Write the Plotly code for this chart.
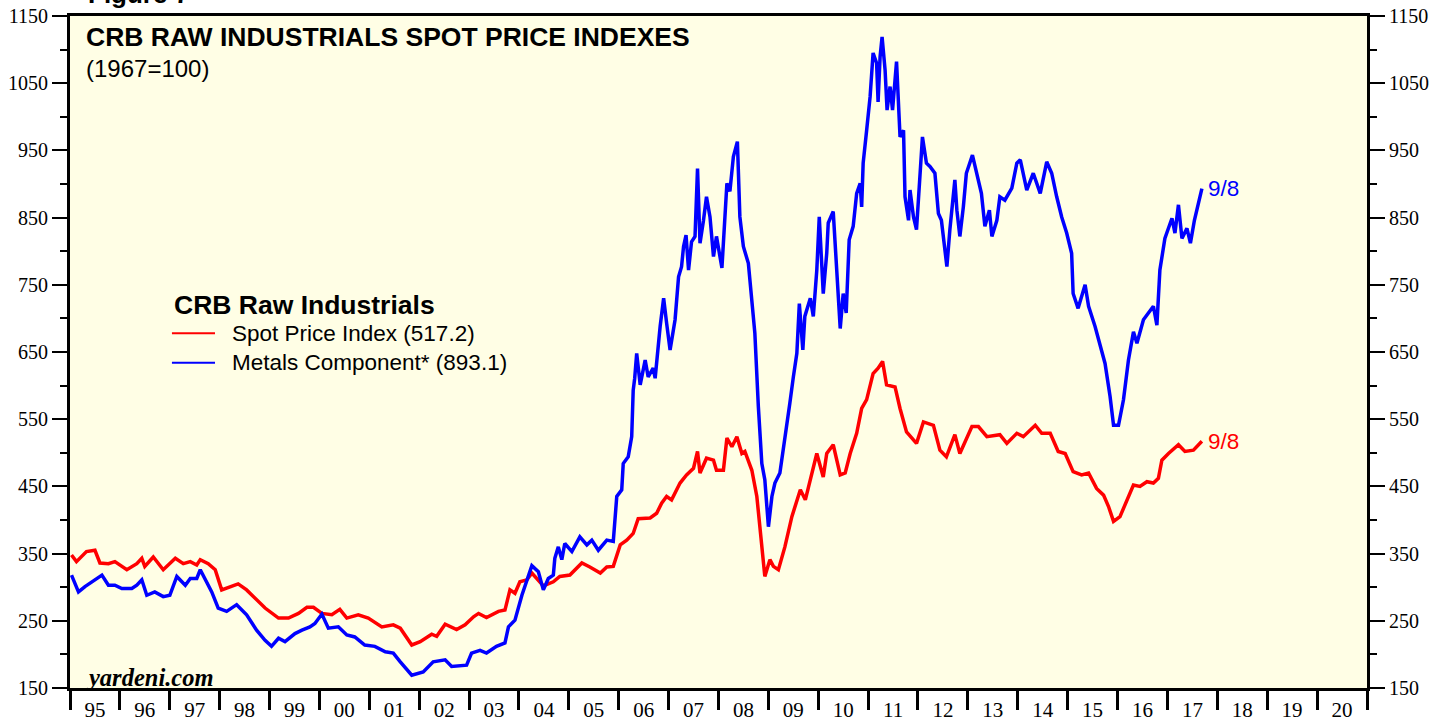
import plotly.graph_objects as go
import pandas as pd

# CRB Raw Industrials spot price index (decimal year, value)
spot_t = [1995.03, 1995.13, 1995.33, 1995.50, 1995.60, 1995.77, 1995.90, 1996.14, 1996.34, 1996.44,
          1996.50, 1996.67, 1996.87, 1997.11, 1997.27, 1997.41, 1997.54, 1997.61, 1997.77, 1997.91,
          1998.04, 1998.21, 1998.37, 1998.54, 1998.71, 1998.91, 1999.18, 1999.38, 1999.58, 1999.75,
          1999.88, 2000.05, 2000.25, 2000.41, 2000.55, 2000.78, 2000.98, 2001.25, 2001.48, 2001.62,
          2001.85, 2002.02, 2002.25, 2002.35, 2002.52, 2002.75, 2002.92, 2003.09, 2003.19, 2003.35,
          2003.59, 2003.72, 2003.82, 2003.92, 2004.02, 2004.16, 2004.26, 2004.49, 2004.69, 2004.82,
          2005.02, 2005.26, 2005.42, 2005.63, 2005.76, 2005.89, 2006.03, 2006.16, 2006.29, 2006.39,
          2006.63, 2006.76, 2006.86, 2006.96, 2007.06, 2007.23, 2007.36, 2007.50, 2007.58, 2007.63,
          2007.76, 2007.90, 2007.96, 2008.10, 2008.17, 2008.27, 2008.37, 2008.47, 2008.53, 2008.67,
          2008.77, 2008.83, 2008.93, 2009.03, 2009.10, 2009.20, 2009.33, 2009.47, 2009.64, 2009.74,
          2009.90, 2009.97, 2010.10, 2010.17, 2010.30, 2010.44, 2010.54, 2010.64, 2010.77, 2010.87,
          2010.97, 2011.10, 2011.20, 2011.29, 2011.37, 2011.54, 2011.64, 2011.77, 2011.97, 2012.11,
          2012.31, 2012.44, 2012.57, 2012.74, 2012.84, 2013.08, 2013.21, 2013.38, 2013.64, 2013.78,
          2013.98, 2014.11, 2014.35, 2014.48, 2014.65, 2014.81, 2014.95, 2015.11, 2015.28, 2015.42,
          2015.58, 2015.72, 2015.82, 2015.92, 2016.05, 2016.15, 2016.32, 2016.45, 2016.59, 2016.72,
          2016.82, 2016.89, 2017.02, 2017.22, 2017.35, 2017.52, 2017.69]
spot_v = [348, 338, 353, 355, 336, 335, 338, 326, 335, 343,
          331, 345, 326, 343, 335, 338, 333, 341, 335, 326,
          296, 301, 305, 296, 284, 269, 254, 254, 261, 270,
          270, 261, 259, 267, 254, 259, 254, 241, 244, 239,
          214, 219, 230, 227, 245, 237, 244, 256, 261, 255,
          264, 266, 296, 291, 308, 311, 321, 302, 308, 316,
          318, 336, 330, 321, 330, 331, 363, 370, 380, 402,
          403, 410, 425, 435, 430, 455, 467, 477, 502, 470,
          492, 489, 474, 474, 522, 509, 524, 499, 502, 474,
          435, 385, 316, 341, 331, 326, 360, 405, 445, 430,
          479, 499, 464, 499, 512, 467, 470, 499, 529, 566,
          579, 618, 626, 636, 601, 598, 566, 531, 514, 546,
          541, 504, 494, 527, 499, 539, 539, 524, 527, 514,
          529, 524, 541, 529, 529, 502, 499, 472, 467, 470,
          447, 437, 420, 398, 405, 422, 452, 450, 457, 455,
          462, 489, 499, 512, 502, 504, 517.2]

# Metals component
metals_t = [1995.03, 1995.07, 1995.17, 1995.30, 1995.50, 1995.64, 1995.77, 1995.90, 1996.04, 1996.24,
            1996.34, 1996.44, 1996.54, 1996.70, 1996.87, 1997.00, 1997.14, 1997.31, 1997.41, 1997.54,
            1997.61, 1997.71, 1997.84, 1997.97, 1998.14, 1998.34, 1998.54, 1998.74, 1998.91, 1999.04,
            1999.18, 1999.31, 1999.51, 1999.65, 1999.81, 1999.91, 2000.05, 2000.18, 2000.38, 2000.55,
            2000.71, 2000.91, 2001.11, 2001.32, 2001.48, 2001.62, 2001.85, 2002.08, 2002.28, 2002.52,
            2002.65, 2002.95, 2003.05, 2003.22, 2003.35, 2003.55, 2003.72, 2003.79, 2003.92, 2004.06,
            2004.16, 2004.26, 2004.39, 2004.49, 2004.59, 2004.69, 2004.72, 2004.79, 2004.86, 2004.92,
            2005.06, 2005.22, 2005.36, 2005.46, 2005.59, 2005.76, 2005.89, 2005.96, 2006.06, 2006.09,
            2006.19, 2006.26, 2006.29, 2006.32, 2006.36, 2006.43, 2006.53, 2006.59, 2006.69, 2006.73,
            2006.83, 2006.90, 2006.96, 2007.03, 2007.13, 2007.20, 2007.26, 2007.30, 2007.35, 2007.40,
            2007.46, 2007.53, 2007.58, 2007.63, 2007.70, 2007.76, 2007.83, 2007.90, 2007.96, 2008.07,
            2008.17, 2008.23, 2008.30, 2008.38, 2008.43, 2008.50, 2008.60, 2008.67, 2008.73, 2008.80,
            2008.87, 2008.93, 2009.00, 2009.07, 2009.13, 2009.23, 2009.33, 2009.43, 2009.50, 2009.57,
            2009.62, 2009.69, 2009.73, 2009.84, 2009.90, 2009.97, 2010.02, 2010.10, 2010.17, 2010.20,
            2010.30, 2010.37, 2010.44, 2010.50, 2010.56, 2010.62, 2010.70, 2010.77, 2010.84, 2010.87,
            2010.90, 2010.97, 2011.04, 2011.10, 2011.17, 2011.20, 2011.24, 2011.28, 2011.34, 2011.38,
            2011.44, 2011.49, 2011.57, 2011.64, 2011.71, 2011.74, 2011.81, 2011.84, 2011.91, 2011.97,
            2012.04, 2012.09, 2012.17, 2012.24, 2012.34, 2012.41, 2012.47, 2012.54, 2012.58, 2012.64,
            2012.74, 2012.78, 2012.84, 2012.91, 2012.97, 2013.09, 2013.17, 2013.27, 2013.34, 2013.43,
            2013.48, 2013.58, 2013.64, 2013.74, 2013.88, 2013.98, 2014.05, 2014.18, 2014.31, 2014.45,
            2014.58, 2014.68, 2014.78, 2014.88, 2014.98, 2015.08, 2015.11, 2015.21, 2015.35, 2015.42,
            2015.55, 2015.65, 2015.75, 2015.85, 2015.92, 2016.02, 2016.12, 2016.22, 2016.32, 2016.39,
            2016.52, 2016.72, 2016.79, 2016.85, 2016.95, 2017.09, 2017.15, 2017.22, 2017.29, 2017.39,
            2017.46, 2017.54, 2017.64, 2017.69]
metals_v = [318, 311, 293, 301, 311, 318, 303, 303, 298, 298,
            303, 311, 288, 293, 286, 288, 316, 303, 313, 313,
            326, 311, 293, 269, 264, 274, 259, 236, 221, 212,
            224, 219, 231, 236, 241, 246, 260, 239, 241, 229,
            226, 214, 212, 204, 202, 189, 169, 174, 189, 192,
            182, 184, 202, 206, 202, 212, 217, 241, 251, 288,
            311, 332, 323, 296, 313, 318, 343, 360, 341, 365,
            353, 375, 363, 370, 355, 370, 368, 435, 445, 484,
            494, 524, 593, 611, 648, 601, 638, 613, 626, 611,
            688, 730, 693, 653, 698, 762, 777, 807, 824, 772,
            814, 822, 923, 812, 846, 881, 851, 792, 822, 775,
            901, 889, 941, 963, 851, 807, 782, 725, 678, 569,
            484, 460, 390, 435, 455, 470, 519, 574, 613, 648,
            722, 653, 703, 730, 703, 772, 851, 737, 797, 842,
            859, 767, 685, 737, 708, 817, 837, 886, 901, 866,
            931, 980, 1030, 1095, 1080, 1022, 1089, 1119, 1070, 1010,
            1045, 1010, 1082, 970, 980, 881, 846, 891, 851, 832,
            906, 970, 931, 926, 916, 856, 846, 807, 777, 832,
            906, 861, 822, 866, 916, 943, 916, 886, 837, 861,
            822, 846, 881, 876, 894, 931, 936, 891, 916, 886,
            933, 916, 881, 851, 827, 797, 737, 715, 750, 718,
            688, 658, 633, 584, 541, 541, 579, 638, 680, 663,
            698, 718, 690, 772, 819, 849, 827, 869, 819, 834,
            812, 846, 876, 893.1]

y_ticks = [150, 250, 350, 450, 550, 650, 750, 850, 950, 1050, 1150]


def to_dates(ts):
    out = []
    for t in ts:
        yr = int(t)
        out.append(pd.Timestamp(yr, 1, 1) + pd.Timedelta(days=(t - yr) * 365.25))
    return out


sans = "Liberation Sans"
serif = "Liberation Serif"

fig = go.Figure()
fig.add_trace(go.Scatter(x=to_dates(spot_t), y=spot_v, mode='lines',
                         line=dict(color='#ff0000', width=3.5), showlegend=False))
fig.add_trace(go.Scatter(x=to_dates(metals_t), y=metals_v, mode='lines',
                         line=dict(color='#0000ff', width=3.5), showlegend=False))
# invisible trace to carry the right-hand axis
fig.add_trace(go.Scatter(x=to_dates([2000.0]), y=[500], yaxis='y2', mode='markers',
                         marker=dict(opacity=0), showlegend=False, hoverinfo='skip'))

yax = dict(range=[150, 1150], tickvals=y_ticks, automargin=False,
           ticks='outside', ticklen=15, tickwidth=2, tickcolor='black',
           minor=dict(dtick=50, tick0=150, ticks='outside', ticklen=7, tickwidth=2, tickcolor='black'),
           showline=True, linewidth=3, linecolor='black',
           showgrid=False, zeroline=False,
           tickfont=dict(family=serif, size=20, color='black'))

fig.update_layout(
    width=1448, height=721,
    margin=dict(l=70, r=81, t=16, b=33),
    paper_bgcolor='white', plot_bgcolor='#fffee5',
    xaxis=dict(type='date', range=['1995-01-01', '2021-01-01'], automargin=False,
               tick0='1995-01-01', dtick='M12', tickformat='%y', ticklabelmode='period',
               ticks='outside', ticklen=19, tickwidth=2.5, tickcolor='black',
               ticklabelstandoff=-18,
               showline=True, linewidth=3, linecolor='black', mirror=True,
               showgrid=False, zeroline=False,
               tickfont=dict(family=serif, size=21, color='black')),
    yaxis=yax,
    yaxis2=dict(yax, overlaying='y', side='right'),
    showlegend=False,
)

ann = [
    dict(text='<b>Figure 7</b>', x=0.012, y=1.0, yshift=5, xanchor='left', yanchor='bottom',
         font=dict(family=sans, size=26, color='black')),
    dict(text='<b>CRB RAW INDUSTRIALS SPOT PRICE INDEXES</b>', x=0.011, y=0.969, xanchor='left', yanchor='middle',
         font=dict(family=sans, size=26.5, color='black')),
    dict(text='(1967=100)', x=0.011, y=0.922, xanchor='left', yanchor='middle',
         font=dict(family=sans, size=24, color='black')),
    dict(text='<b>CRB Raw Industrials</b>', x=0.0786, y=0.570, xanchor='left', yanchor='middle',
         font=dict(family=sans, size=26.5, color='black')),
    dict(text='Spot Price Index (517.2)', x=0.1234, y=0.528, xanchor='left', yanchor='middle',
         font=dict(family=sans, size=22.5, color='black')),
    dict(text='Metals Component* (893.1)', x=0.1234, y=0.484, xanchor='left', yanchor='middle',
         font=dict(family=sans, size=22.5, color='black')),
    dict(text='<b><i>yardeni.com</i></b>', x=0.011, y=0.016, xanchor='left', yanchor='middle',
         font=dict(family=serif, size=24.5, color='black')),
]
for a in ann:
    a.update(xref='paper', yref='paper', showarrow=False)
    fig.add_annotation(**a)

# "9/8" end labels
last = to_dates([spot_t[-1]])[0]
fig.add_annotation(x=last, y=metals_v[-1], text='9/8', showarrow=False, xanchor='left', xshift=4,
                   font=dict(family=sans, size=22.5, color='#0000ff'))
fig.add_annotation(x=last, y=spot_v[-1], text='9/8', showarrow=False, xanchor='left', xshift=4,
                   font=dict(family=sans, size=22.5, color='#ff0000'))

# legend key lines
for yy, col in [(0.528, '#ff0000'), (0.484, '#0000ff')]:
    fig.add_shape(type='line', xref='paper', yref='paper', x0=0.0786, x1=0.1118, y0=yy, y1=yy,
                  line=dict(color=col, width=2))

# page body margin off so the figure sits at the window origin
fig.write_html("out.html", config={'displayModeBar': False},
               post_script="document.body.style.margin='0';")
